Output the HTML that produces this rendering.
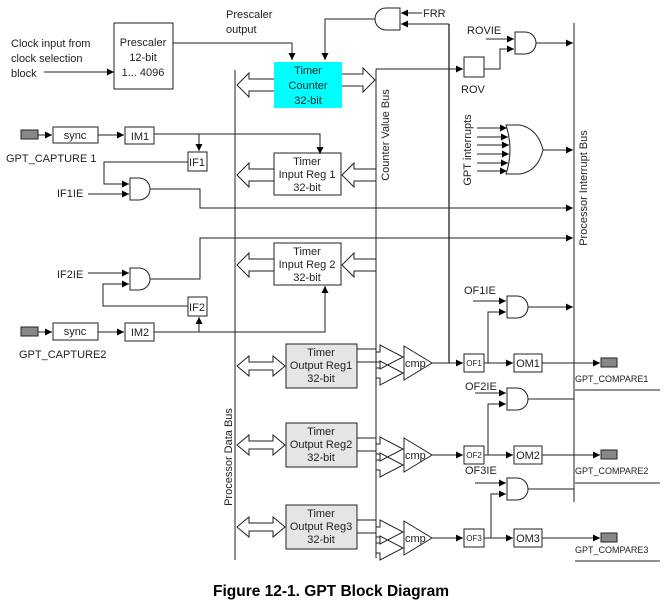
<!DOCTYPE html>
<html><head><meta charset="utf-8"><style>
html,body{margin:0;padding:0;background:#fff}
svg{display:block}
text{font-family:"Liberation Sans",sans-serif;font-size:11px;fill:#222}
.c{text-anchor:middle}
</style></head><body>
<svg width="669" height="604" viewBox="0 0 669 604" xmlns="http://www.w3.org/2000/svg">
<defs>
<marker id="a" viewBox="0 0 10 10" refX="10" refY="5" markerWidth="8" markerHeight="7" markerUnits="userSpaceOnUse" orient="auto"><path d="M0,0L10,5L0,10z" fill="#000"/></marker>
</defs>
<g stroke="#222" stroke-width="1" fill="none">
<line x1="235" y1="70" x2="235" y2="560"/>
<line x1="376" y1="69" x2="376" y2="558"/>
<line x1="574" y1="23" x2="574" y2="502"/>
<line x1="449" y1="24" x2="449" y2="363" stroke-width="1.3"/>
<line x1="44" y1="72" x2="114" y2="72" marker-end="url(#a)"/>
<rect x="114" y="23" width="59" height="66"/>
<polyline points="173,43 292,43 292,60" marker-end="url(#a)"/>
<path d="M400,8 h-14 a11,11 0 0 0 0,22 h14 z"/>
<polyline points="375,19 325,19 325,60" marker-end="url(#a)"/>
<line x1="422" y1="13" x2="401" y2="13" marker-end="url(#a)"/>
<polyline points="449,24 401,24" marker-end="url(#a)"/>
<rect x="274" y="62" width="68" height="46" fill="#00ffff" stroke="none"/>
<path d="M274,79 H249 V73 L237,85 L249,97 V91 H274"/>
<path d="M342,74 H363 V68 L375,80 L363,92 V86 H342"/>
<polyline points="376,69 463,69" marker-end="url(#a)"/>
<rect x="464" y="57" width="20" height="20"/>
<polyline points="484,69 500,69 500,49 514,49" marker-end="url(#a)"/>
<line x1="486" y1="39" x2="514" y2="39" marker-end="url(#a)"/>
<path d="M515,32 h10 a11,11 0 0 1 0,22 h-10 z"/>
<line x1="536" y1="43" x2="573" y2="43" marker-end="url(#a)"/>
<path d="M506,125 h14 q18,4 23,25 q-5,21 -23,24 h-14 q8,-24 0,-49 z"/>
<line x1="477" y1="128" x2="507" y2="128" marker-end="url(#a)"/>
<line x1="477" y1="137" x2="508" y2="137" marker-end="url(#a)"/>
<line x1="477" y1="145" x2="509" y2="145" marker-end="url(#a)"/>
<line x1="477" y1="154" x2="509" y2="154" marker-end="url(#a)"/>
<line x1="477" y1="163" x2="508" y2="163" marker-end="url(#a)"/>
<line x1="477" y1="171" x2="507" y2="171" marker-end="url(#a)"/>
<line x1="543" y1="150" x2="573" y2="150" marker-end="url(#a)"/>
<rect x="21" y="130" width="17" height="9" fill="#888"/>
<line x1="38" y1="135" x2="52" y2="135" marker-end="url(#a)"/>
<rect x="53" y="127" width="45" height="16"/>
<line x1="98" y1="135" x2="124" y2="135" marker-end="url(#a)"/>
<rect x="125" y="127" width="29" height="17"/>
<polyline points="154,134 320,134 320,154" marker-end="url(#a)"/>
<line x1="199" y1="134" x2="199" y2="151" marker-end="url(#a)"/>
<rect x="188" y="152" width="19" height="19"/>
<polyline points="188,162 104,162 104,184 129,184" marker-end="url(#a)"/>
<line x1="88" y1="194" x2="129" y2="194" marker-end="url(#a)"/>
<path d="M130,178 h9 a11,11 0 0 1 0,22 h-9 z"/>
<polyline points="150,189 200,189 200,208 573,208" marker-end="url(#a)"/>
<rect x="274" y="153" width="67" height="42"/>
<path d="M274,169 H249 V163 L237,175 L249,187 V181 H274"/>
<path d="M376,169 H354 V163 L342,175 L354,187 V181 H376"/>
<polyline points="150,279 200,279 200,238 573,238" marker-end="url(#a)"/>
<path d="M130,268 h9 a11,11 0 0 1 0,22 h-9 z"/>
<line x1="88" y1="273" x2="129" y2="273" marker-end="url(#a)"/>
<polyline points="188,306 103,306 103,284 129,284" marker-end="url(#a)"/>
<rect x="188" y="297" width="19" height="19"/>
<line x1="199" y1="332" x2="199" y2="317" marker-end="url(#a)"/>
<rect x="21" y="327" width="17" height="9" fill="#888"/>
<line x1="38" y1="332" x2="52" y2="332" marker-end="url(#a)"/>
<rect x="53" y="323" width="45" height="17"/>
<line x1="98" y1="332" x2="124" y2="332" marker-end="url(#a)"/>
<rect x="125" y="323" width="29" height="18"/>
<polyline points="154,332 325,332 325,286" marker-end="url(#a)"/>
<rect x="274" y="243" width="67" height="42"/>
<path d="M274,259 H249 V253 L237,265 L249,277 V271 H274"/>
<path d="M376,259 H354 V253 L342,265 L354,277 V271 H376"/>
</g>
<g stroke="#222" stroke-width="1" fill="none">
<g>
<rect x="286" y="344" width="71" height="44" fill="#e5e5e5"/>
<path d="M237,366 L249,356 V362 H273 V356 L285,366 L273,376 V370 H249 V376 Z"/>
<line x1="357" y1="349" x2="376" y2="349"/><line x1="357" y1="362" x2="376" y2="362"/>
<path d="M376,352 H380 V345 L403,357 L380,369 V362 H376"/>
<path d="M376,368 H380 V361 L403,373 L380,385 V378 H376"/>
<path d="M404,346 L432,363 L404,380 Z" fill="#fff"/>
<line x1="432" y1="363" x2="463" y2="363" marker-end="url(#a)"/>
<rect x="464" y="354" width="20" height="18"/>
<line x1="484" y1="363" x2="513" y2="363" marker-end="url(#a)"/>
<rect x="514" y="354" width="28" height="18"/>
<line x1="542" y1="363" x2="600" y2="363" marker-end="url(#a)"/>
<rect x="601" y="358" width="16" height="9" fill="#888"/>
<polyline points="488,363 488,312 506,312" marker-end="url(#a)"/>
<line x1="473" y1="301" x2="506" y2="301" marker-end="url(#a)"/>
<path d="M507,296 h10 a11,11 0 0 1 0,22 h-10 z"/>
<line x1="528" y1="307" x2="573" y2="307" marker-end="url(#a)"/>
<line x1="575" y1="390" x2="660" y2="390"/>
</g>
<g>
<rect x="286" y="423" width="71" height="44" fill="#e5e5e5"/>
<path d="M237,445 L249,435 V441 H273 V435 L285,445 L273,455 V449 H249 V455 Z"/>
<line x1="357" y1="438" x2="376" y2="438"/><line x1="357" y1="451" x2="376" y2="451"/>
<path d="M376,444 H380 V437 L403,449 L380,461 V454 H376"/>
<path d="M376,460 H380 V453 L403,465 L380,477 V470 H376"/>
<path d="M404,438 L432,455 L404,472 Z" fill="#fff"/>
<line x1="432" y1="455" x2="463" y2="455" marker-end="url(#a)"/>
<rect x="464" y="446" width="20" height="18"/>
<line x1="484" y1="455" x2="513" y2="455" marker-end="url(#a)"/>
<rect x="514" y="446" width="28" height="18"/>
<line x1="542" y1="455" x2="600" y2="455" marker-end="url(#a)"/>
<rect x="601" y="450" width="16" height="9" fill="#888"/>
<polyline points="488,455 488,404 506,404" marker-end="url(#a)"/>
<line x1="475" y1="393" x2="506" y2="393" marker-end="url(#a)"/>
<path d="M507,388 h10 a11,11 0 0 1 0,22 h-10 z"/>
<line x1="528" y1="399" x2="574" y2="399"/>
<line x1="575" y1="483" x2="660" y2="483"/>
</g>
<g>
<rect x="286" y="505" width="71" height="44" fill="#e5e5e5"/>
<path d="M237,527 L249,517 V523 H273 V517 L285,527 L273,537 V531 H249 V537 Z"/>
<line x1="357" y1="520" x2="376" y2="520"/><line x1="357" y1="533" x2="376" y2="533"/>
<path d="M376,527 H380 V520 L403,532 L380,544 V537 H376"/>
<path d="M376,543 H380 V536 L403,548 L380,560 V553 H376"/>
<path d="M404,521 L432,538 L404,555 Z" fill="#fff"/>
<line x1="432" y1="538" x2="463" y2="538" marker-end="url(#a)"/>
<rect x="464" y="529" width="20" height="18"/>
<line x1="484" y1="538" x2="513" y2="538" marker-end="url(#a)"/>
<rect x="514" y="529" width="28" height="18"/>
<line x1="542" y1="538" x2="600" y2="538" marker-end="url(#a)"/>
<rect x="601" y="533" width="16" height="9" fill="#888"/>
<polyline points="491,538 491,494 506,494" marker-end="url(#a)"/>
<line x1="475" y1="483" x2="506" y2="483" marker-end="url(#a)"/>
<path d="M507,478 h10 a11,11 0 0 1 0,22 h-10 z"/>
<line x1="528" y1="489" x2="574" y2="489"/>
<line x1="575" y1="561" x2="660" y2="561"/>
</g>
</g>
<text x="11" y="47">Clock input from</text>
<text x="11" y="62">clock selection</text>
<text x="11" y="77">block</text>
<text x="143" y="46" class="c">Prescaler</text>
<text x="143" y="61" class="c">12-bit</text>
<text x="143" y="76" class="c">1...  4096</text>
<text x="226" y="18">Prescaler</text>
<text x="226" y="33">output</text>
<text x="308" y="74" class="c">Timer</text>
<text x="308" y="89" class="c">Counter</text>
<text x="308" y="104" class="c">32-bit</text>
<text x="423" y="17">FRR</text>
<text x="467" y="34">ROVIE</text>
<text x="461" y="93">ROV</text>
<text x="75" y="139" class="c">sync</text>
<text x="140" y="140" class="c">IM1</text>
<text x="197" y="166" class="c">IF1</text>
<text x="6" y="162">GPT_CAPTURE 1</text>
<text x="57" y="197">IF1IE</text>
<text x="307" y="165" class="c">Timer</text>
<text x="307" y="178" class="c">Input Reg 1</text>
<text x="307" y="191" class="c">32-bit</text>
<text x="307" y="255" class="c">Timer</text>
<text x="307" y="268" class="c">Input Reg 2</text>
<text x="307" y="281" class="c">32-bit</text>
<text x="57" y="278">IF2IE</text>
<text x="197" y="311" class="c">IF2</text>
<text x="75" y="335" class="c">sync</text>
<text x="140" y="336" class="c">IM2</text>
<text x="19" y="358">GPT_CAPTURE2</text>
<text transform="translate(389,135) rotate(-90)" class="c">Counter Value Bus</text>
<text transform="translate(587,188) rotate(-90)" class="c">Processor Interrupt Bus</text>
<text transform="translate(471,150) rotate(-90)" class="c">GPT interrupts</text>
<text transform="translate(232,457) rotate(-90)" class="c">Processor Data Bus</text>
<text x="464" y="294">OF1IE</text>
<text x="465" y="390">OF2IE</text>
<text x="465" y="474">OF3IE</text>
<text x="321" y="356" class="c">Timer</text><text x="321" y="369" class="c">Output Reg1</text><text x="321" y="382" class="c">32-bit</text>
<text x="321" y="435" class="c">Timer</text><text x="321" y="448" class="c">Output Reg2</text><text x="321" y="461" class="c">32-bit</text>
<text x="321" y="517" class="c">Timer</text><text x="321" y="530" class="c">Output Reg3</text><text x="321" y="543" class="c">32-bit</text>
<text x="405" y="367">cmp</text><text x="405" y="459">cmp</text><text x="405" y="542">cmp</text>
<text x="474" y="366" class="c" style="font-size:8px">OF1</text>
<text x="474" y="458" class="c" style="font-size:8px">OF2</text>
<text x="474" y="541" class="c" style="font-size:8px">OF3</text>
<text x="528" y="367" class="c">OM1</text><text x="528" y="459" class="c">OM2</text><text x="528" y="542" class="c">OM3</text>
<text x="575" y="382" style="font-size:9px">GPT_COMPARE1</text>
<text x="575" y="474" style="font-size:9px">GPT_COMPARE2</text>
<text x="575" y="553" style="font-size:9px">GPT_COMPARE3</text>
<text x="331" y="596" class="c" style="font-size:15.5px;font-weight:bold;fill:#000">Figure 12-1. GPT Block Diagram</text>
</svg>
</body></html>
